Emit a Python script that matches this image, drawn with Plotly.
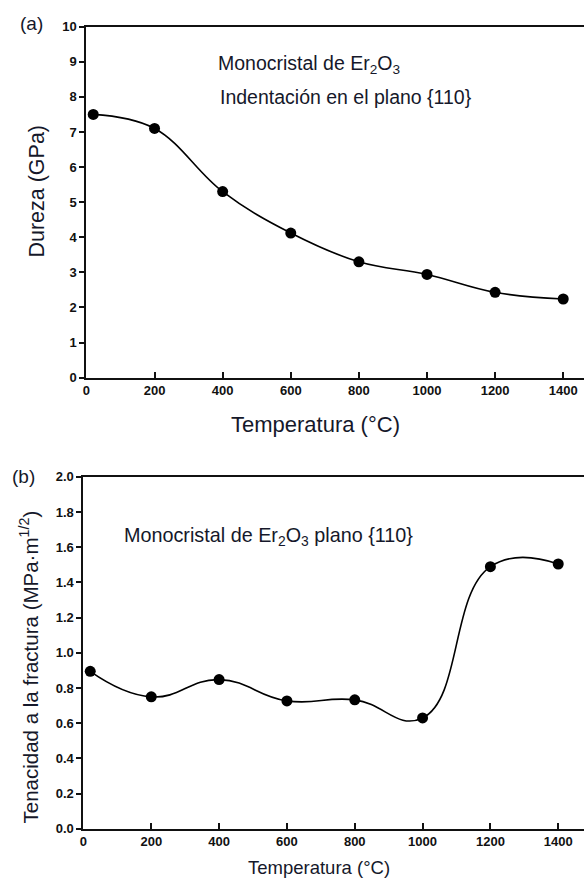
import plotly.graph_objects as go

# Data
temp_a = [20, 200, 400, 600, 800, 1000, 1200, 1400]
dureza = [7.5, 7.1, 5.3, 4.12, 3.3, 2.94, 2.43, 2.24]
temp_b = [20, 200, 400, 600, 800, 1000, 1200, 1400]
tenacidad = [0.895, 0.75, 0.848, 0.727, 0.733, 0.63, 1.49, 1.505]

x_ticks = [0, 200, 400, 600, 800, 1000, 1200, 1400]
y_ticks_a = list(range(0, 11))
y_ticks_b = [0.0, 0.2, 0.4, 0.6, 0.8, 1.0, 1.2, 1.4, 1.6, 1.8, 2.0]
y_ticktext_b = ["0.0", "0.2", "0.4", "0.6", "0.8", "1.0", "1.2", "1.4", "1.6", "1.8", "2.0"]

W, H = 584, 885
FONT = "Liberation Sans, Arial, sans-serif"
TXT = "#15182a"


def bold(vals):
    return ["<b>%s</b>" % v for v in vals]


fig = go.Figure()
fig.add_trace(go.Scatter(x=temp_a, y=dureza, mode="lines+markers",
                         line=dict(color="black", width=1.6, shape="spline", smoothing=1.1),
                         marker=dict(color="black", size=11),
                         xaxis="x", yaxis="y", showlegend=False))
fig.add_trace(go.Scatter(x=temp_b, y=tenacidad, mode="lines+markers",
                         line=dict(color="black", width=1.6, shape="spline", smoothing=1.3),
                         marker=dict(color="black", size=11),
                         xaxis="x2", yaxis="y2", showlegend=False))

tickfont = dict(family=FONT, size=13, color="#111")
common_x = dict(showline=True, linecolor="#111", linewidth=2, mirror=True,
                ticks="inside", ticklen=6, tickwidth=1.5, tickcolor="#111",
                tickvals=x_ticks, ticktext=bold(x_ticks), tickfont=tickfont,
                showgrid=False, zeroline=False)
common_y = dict(showline=True, linecolor="#111", linewidth=2,
                ticks="outside", ticklen=5, tickwidth=1.5, tickcolor="#111",
                tickfont=tickfont, showgrid=False, zeroline=False)

fig.update_layout(
    width=W, height=H,
    margin=dict(l=0, r=0, t=0, b=0),
    paper_bgcolor="white", plot_bgcolor="white",
    xaxis=dict(domain=[83 / W, 1.0], range=[0, 1461], anchor="y", **common_x),
    yaxis=dict(domain=[1 - 377 / H, 1 - 20 / H], range=[0, 10], anchor="x",
               tickvals=y_ticks_a, ticktext=bold(y_ticks_a), **common_y),
    xaxis2=dict(domain=[80 / W, 1.0], range=[0, 1476], anchor="y2", **common_x),
    yaxis2=dict(domain=[1 - 836 / H, 1 - 478 / H], range=[0, 2.0], anchor="x2",
                tickvals=y_ticks_b, ticktext=bold(y_ticktext_b), **common_y),
)


def ann(text, x, y, size, xanchor="left", angle=0):
    fig.add_annotation(text=text, x=x / W, y=1 - y / H, xref="paper", yref="paper",
                       xanchor=xanchor, yanchor="middle", showarrow=False, textangle=angle,
                       font=dict(family=FONT, size=size, color=TXT))


ann("(a)", 14, 17, 19)
ann("(b)", 6, 478, 19)
ann("Monocristal de Er<sub>2</sub>O<sub>3</sub>", 213, 59, 19.5)
ann("Indentación en el plano {110}", 215, 92, 19.5)
ann("Monocristal de Er<sub>2</sub>O<sub>3</sub> plano {110}", 119, 539, 19.8)
ann("Temperatura (°C)", 314, 425, 22, xanchor="center")
ann("Temperatura (°C)", 317, 875, 18.5, xanchor="center")
ann("Dureza (GPa)", 33, 187, 21.5, xanchor="center", angle=-90)
ann("Tenacidad a la fractura (MPa·m<sup>1/2</sup>)", 25, 671, 20.5, xanchor="center", angle=-90)

fig.write_html("out.html")
